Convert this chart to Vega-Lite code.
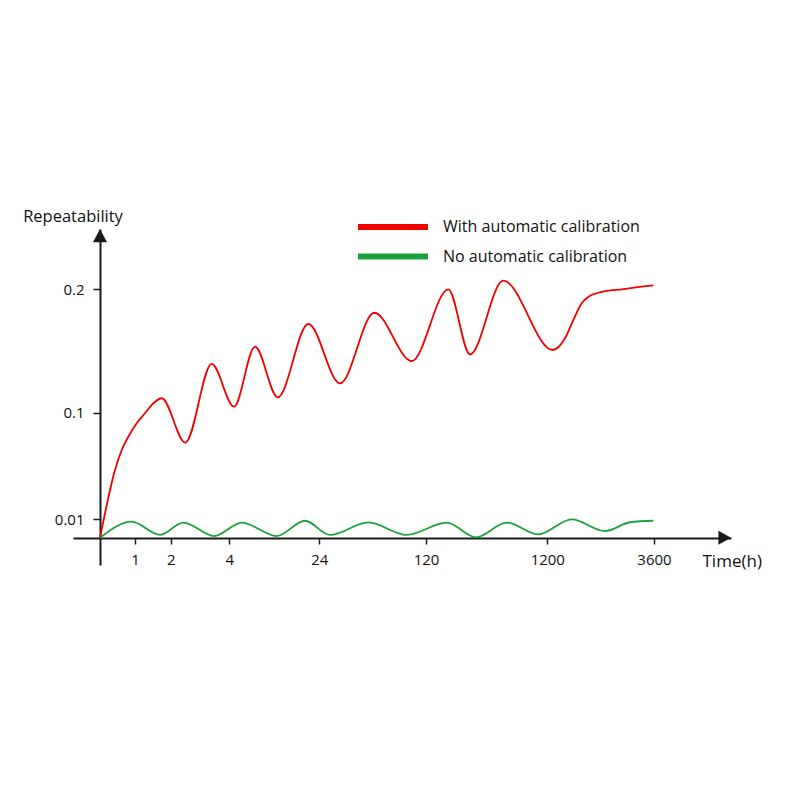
{
  "$schema": "https://vega.github.io/schema/vega-lite/v6.json",
  "width": 658,
  "height": 336,
  "autosize": "none",
  "padding": {"left": 73, "top": 229, "right": 69, "bottom": 235},
  "background": "white",
  "config": {"view": {"stroke": null}, "font": "Open Sans"},
  "encoding": {
    "x": {
      "field": "hours",
      "type": "quantitative",
      "scale": {
        "domain": [-0.7714, 0, 1, 2, 4, 24, 120, 1200, 3600, 5332],
        "range": [0, 27, 62, 97.7, 156.3, 246.3, 353, 474.3, 581, 658],
        "nice": false,
        "zero": false
      },
      "axis": {
        "values": [1, 2, 4, 24, 120, 1200, 3600],
        "format": "d",
        "offset": -27,
        "grid": false,
        "domainColor": "#1a1a1a",
        "domainWidth": 2,
        "tickColor": "#1a1a1a",
        "tickWidth": 1.5,
        "tickSize": 6,
        "labelFontSize": 15,
        "labelColor": "#111",
        "labelPadding": 8,
        "labelFlush": false,
        "labelOverlap": false,
        "title": "Time(h)",
        "titleFontSize": 17,
        "titleFontWeight": "normal",
        "titleColor": "#111",
        "titleAlign": "left",
        "titleBaseline": "middle",
        "titleX": 629,
        "titleY": 23
      }
    },
    "y": {
      "field": "value",
      "type": "quantitative",
      "scale": {
        "domain": [-0.0148, 0, 0.01, 0.1, 0.2, 0.2489],
        "range": [336, 308.7, 290.3, 183.7, 60.3, 0],
        "nice": false,
        "zero": false
      },
      "axis": {
        "values": [0.01, 0.1, 0.2],
        "format": "~g",
        "offset": -27,
        "grid": false,
        "domainColor": "#1a1a1a",
        "domainWidth": 2,
        "tickColor": "#1a1a1a",
        "tickWidth": 1.5,
        "tickSize": 7,
        "labelFontSize": 15,
        "labelColor": "#111",
        "labelPadding": 9,
        "labelFlush": false,
        "labelOverlap": false,
        "title": "Repeatability",
        "titleFontSize": 16.5,
        "titleFontWeight": "normal",
        "titleColor": "#111",
        "titleAngle": 0,
        "titleAlign": "center",
        "titleBaseline": "middle",
        "titleX": -27.5,
        "titleY": -13
      }
    }
  },
  "layer": [
    {
      "data": {
        "values": [
          {"series": "With automatic calibration", "hours": 0, "value": 0},
          {"series": "With automatic calibration", "hours": 0.143, "value": 0.0151},
          {"series": "With automatic calibration", "hours": 0.286, "value": 0.0347},
          {"series": "With automatic calibration", "hours": 0.429, "value": 0.0516},
          {"series": "With automatic calibration", "hours": 0.62, "value": 0.0685},
          {"series": "With automatic calibration", "hours": 0.809, "value": 0.0797},
          {"series": "With automatic calibration", "hours": 1.048, "value": 0.0911},
          {"series": "With automatic calibration", "hours": 1.28, "value": 0.0995},
          {"series": "With automatic calibration", "hours": 1.513, "value": 0.1076},
          {"series": "With automatic calibration", "hours": 1.748, "value": 0.1117},
          {"series": "With automatic calibration", "hours": 2.5, "value": 0.0747},
          {"series": "With automatic calibration", "hours": 3.399, "value": 0.1395},
          {"series": "With automatic calibration", "hours": 5.04, "value": 0.1049},
          {"series": "With automatic calibration", "hours": 9.71, "value": 0.1535},
          {"series": "With automatic calibration", "hours": 14.76, "value": 0.1125},
          {"series": "With automatic calibration", "hours": 21.56, "value": 0.1719},
          {"series": "With automatic calibration", "hours": 42.62, "value": 0.1238},
          {"series": "With automatic calibration", "hours": 73.48, "value": 0.181},
          {"series": "With automatic calibration", "hours": 107.13, "value": 0.1419},
          {"series": "With automatic calibration", "hours": 318.5, "value": 0.2},
          {"series": "With automatic calibration", "hours": 511.8, "value": 0.1473},
          {"series": "With automatic calibration", "hours": 808.2, "value": 0.207},
          {"series": "With automatic calibration", "hours": 1321.5, "value": 0.1508},
          {"series": "With automatic calibration", "hours": 1598.1, "value": 0.1603},
          {"series": "With automatic calibration", "hours": 1784.8, "value": 0.1751},
          {"series": "With automatic calibration", "hours": 1973.8, "value": 0.1887},
          {"series": "With automatic calibration", "hours": 2160.5, "value": 0.1948},
          {"series": "With automatic calibration", "hours": 2347.1, "value": 0.1972},
          {"series": "With automatic calibration", "hours": 2909.5, "value": 0.2002},
          {"series": "With automatic calibration", "hours": 3584, "value": 0.2032},
          {"series": "No automatic calibration", "hours": 0, "value": 0},
          {"series": "No automatic calibration", "hours": 0.906, "value": 0.0087},
          {"series": "No automatic calibration", "hours": 1.7, "value": 0.0015},
          {"series": "No automatic calibration", "hours": 2.43, "value": 0.0082},
          {"series": "No automatic calibration", "hours": 3.488, "value": 0.0009},
          {"series": "No automatic calibration", "hours": 6.76, "value": 0.0082},
          {"series": "No automatic calibration", "hours": 14.53, "value": 0.0009},
          {"series": "No automatic calibration", "hours": 20.82, "value": 0.0092},
          {"series": "No automatic calibration", "hours": 33.63, "value": 0.0015},
          {"series": "No automatic calibration", "hours": 68.09, "value": 0.0083},
          {"series": "No automatic calibration", "hours": 102.6, "value": 0.0015},
          {"series": "No automatic calibration", "hours": 304.3, "value": 0.0082},
          {"series": "No automatic calibration", "hours": 565.2, "value": 0.0002},
          {"series": "No automatic calibration", "hours": 838.5, "value": 0.0082},
          {"series": "No automatic calibration", "hours": 1119.9, "value": 0.0018},
          {"series": "No automatic calibration", "hours": 1748.8, "value": 0.01},
          {"series": "No automatic calibration", "hours": 2497.8, "value": 0.0036},
          {"series": "No automatic calibration", "hours": 3060.2, "value": 0.0084},
          {"series": "No automatic calibration", "hours": 3584, "value": 0.0092}
        ]
      },
      "mark": {"type": "line", "interpolate": "monotone", "strokeWidth": 1.8},
      "encoding": {
        "color": {
          "field": "series",
          "type": "nominal",
          "scale": {
            "domain": ["With automatic calibration", "No automatic calibration"],
            "range": ["#f20000", "#1ca23a"]
          },
          "legend": {
            "title": null,
            "orient": "none",
            "legendX": 310,
            "legendY": -12,
            "symbolType": "M-5,0L5,0",
            "symbolSize": 196,
            "symbolStrokeWidth": 6,
            "labelFontSize": 16,
            "labelColor": "#111",
            "labelLimit": 400,
            "labelOffset": 40,
            "rowPadding": 5.5
          }
        }
      }
    },
    {
      "data": {
        "values": [
          {"axis": "y", "hours": 0, "value": 0.2489},
          {"axis": "x", "hours": 5332, "value": 0}
        ]
      },
      "mark": {"type": "point", "filled": true, "opacity": 1, "size": 196, "color": "#1a1a1a"},
      "encoding": {
        "shape": {
          "field": "axis",
          "type": "nominal",
          "scale": {
            "domain": ["y", "x"],
            "range": ["M0,0L-1,1.9L1,1.9Z", "M0,0L-1.8,-1L-1.8,1Z"]
          },
          "legend": null
        }
      }
    }
  ]
}
